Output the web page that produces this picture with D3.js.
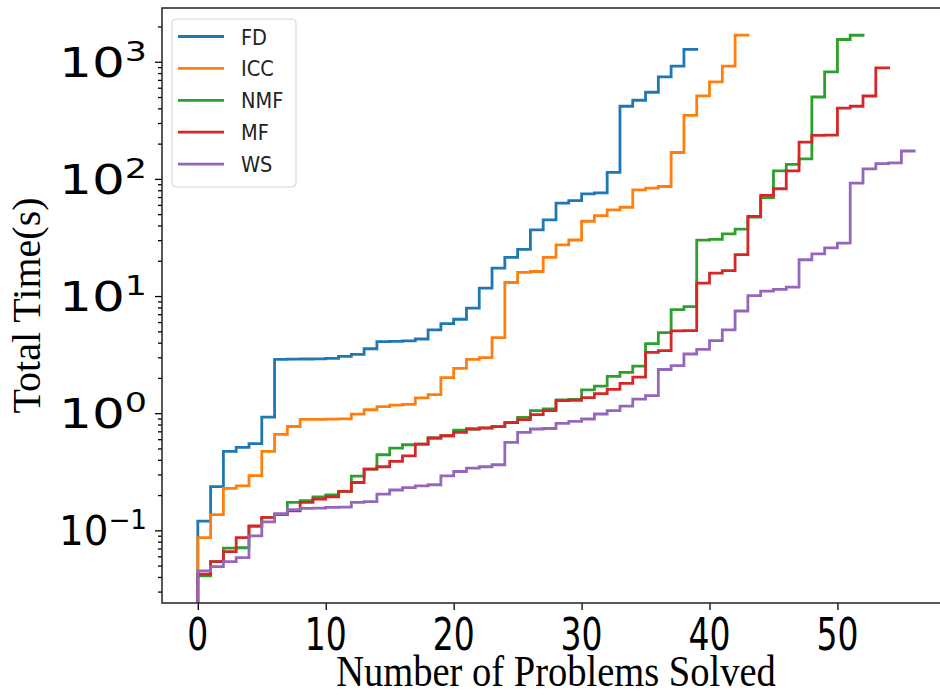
<!DOCTYPE html>
<html>
<head>
<meta charset="utf-8">
<script src="https://cdn.jsdelivr.net/npm/d3@7"></script>
<style>
  body { margin: 0; background: #fff; }
  svg { display: block; }
</style>
</head>
<body>
<script>
// cumulative solve time (s) after each solved problem
const methods = ["FD", "ICC", "NMF", "MF", "WS"];
const colors = ["#1f77b4", "#ff7f0e", "#2ca02c", "#d62728", "#9467bd"];

const fdTimes = [0.12, 0.236, 0.473, 0.511, 0.55, 0.924, 2.88, 2.89, 2.9, 2.91, 2.94, 3.06, 3.18, 3.55,
  4.08, 4.1, 4.15, 4.3, 5.14, 5.82, 6.34, 7.88, 11.7, 17.3, 21.4, 25.0, 36.7, 44.7, 62.0, 65.3, 74.5,
  76.1, 113.5, 417, 469, 549, 743, 916, 1274];
const iccTimes = [0.0868, 0.136, 0.228, 0.240, 0.293, 0.473, 0.66, 0.77, 0.885, 0.887, 0.89, 0.895,
  0.98, 1.07, 1.14, 1.17, 1.19, 1.35, 1.44, 2.01, 2.41, 2.88, 2.98, 4.41, 13.05, 15.9, 16.2, 21.4,
  27.3, 30.1, 43.5, 48.6, 54.4, 57.3, 80.7, 83.3, 86.1, 168, 349, 511, 673, 916, 1690];
const nmfTimes = [0.0408, 0.0541, 0.0705, 0.071, 0.108, 0.129, 0.137, 0.173, 0.179, 0.193, 0.201,
  0.215, 0.29, 0.333, 0.442, 0.504, 0.538, 0.545, 0.614, 0.642, 0.718, 0.733, 0.747, 0.767, 0.835,
  0.92, 1.05, 1.09, 1.30, 1.31, 1.58, 1.70, 2.06, 2.23, 2.52, 3.92, 4.88, 7.65, 8.13, 30.0, 30.4,
  34.0, 37.3, 47.2, 69.1, 117, 133, 148, 500, 818, 1549, 1684];
const mfTimes = [0.0422, 0.0541, 0.0659, 0.0868, 0.109, 0.129, 0.137, 0.147, 0.173, 0.185, 0.193,
  0.215, 0.256, 0.333, 0.349, 0.388, 0.433, 0.545, 0.614, 0.642, 0.686, 0.733, 0.75, 0.767, 0.83,
  0.88, 0.971, 1.05, 1.28, 1.29, 1.36, 1.47, 1.60, 1.80, 2.03, 3.31, 3.42, 5.05, 5.07, 12.9, 15.7,
  16.5, 22.6, 47.8, 72.3, 82.4, 117, 206, 235, 236, 402, 417, 510, 887];
const wsTimes = [0.0451, 0.0491, 0.0541, 0.0586, 0.0897, 0.118, 0.139, 0.150, 0.154, 0.155, 0.157,
  0.158, 0.173, 0.176, 0.204, 0.221, 0.232, 0.240, 0.245, 0.292, 0.318, 0.340, 0.349, 0.363, 0.563,
  0.686, 0.733, 0.74, 0.818, 0.851, 0.892, 0.984, 1.05, 1.15, 1.32, 1.41, 2.36, 2.55, 3.2, 3.5,
  4.17, 5.14, 7.45, 10.1, 11.0, 11.4, 11.9, 20.4, 22.9, 25.8, 28.3, 92.1, 122, 135, 137, 173];

const xTicks = [0, 10, 20, 30, 40, 50];
const yTicks = [0.1, 1, 10, 100, 1000];
const yTickExp = ["\u22121", "0", "1", "2", "3"];

const seriesTimes = [fdTimes, iccTimes, nmfTimes, mfTimes, wsTimes];

const width = 940, height = 695;
const plot = { left: 162, top: 8, right: 950, bottom: 603 };

const svg = d3.select("body").append("svg")
  .attr("width", width)
  .attr("height", height);

// matplotlib-like 5% margins: x over [0, 56], y over log range of the data
const xMax = d3.max(seriesTimes, (s) => s.length);
const x = d3.scaleLinear()
  .domain([-0.05 * xMax, xMax * 1.05])
  .range([plot.left, plot.right]);

const allTimes = seriesTimes.flat();
const lo = Math.log10(d3.min(allTimes)), hi = Math.log10(d3.max(allTimes));
const pad = (hi - lo) * 0.05;
const y = d3.scaleLog()
  .domain([10 ** (lo - pad), 10 ** (hi + pad)])
  .range([plot.bottom, plot.top])
  .clamp(true);

svg.append("clipPath").attr("id", "clip")
  .append("rect")
  .attr("x", plot.left).attr("y", plot.top)
  .attr("width", plot.right - plot.left).attr("height", plot.bottom - plot.top);

// step lines (matplotlib step, where="pre"), starting at zero time for zero problems
const line = d3.line()
  .x((d) => x(d[0]))
  .y((d) => y(d[1]))
  .curve(d3.curveStepBefore);

svg.append("g")
  .attr("clip-path", "url(#clip)")
  .selectAll("path")
  .data(seriesTimes)
  .join("path")
  .attr("d", (s) => line([[0, 0], ...s.map((t, i) => [i + 1, t])]))
  .attr("fill", "none")
  .attr("stroke", (s, i) => colors[i])
  .attr("stroke-width", 2.8)
  .attr("stroke-linejoin", "miter")
  .attr("stroke-linecap", "square");

// x axis
const xAxis = svg.append("g")
  .attr("transform", `translate(0,${plot.bottom})`)
  .call(d3.axisBottom(x).tickValues(xTicks).tickSize(7).tickSizeOuter(0).tickFormat(""));
xAxis.select(".domain").remove();
xAxis.selectAll(".tick line").attr("stroke", "#000").attr("stroke-width", 1.3);

svg.append("g")
  .selectAll("text")
  .data(xTicks)
  .join("text")
  .attr("transform", (d) => `translate(${x(d)},650) scale(0.75,1)`)
  .attr("text-anchor", "middle")
  .attr("font-family", "DejaVu Sans")
  .attr("font-size", 44)
  .text((d) => d);

// y axis: major + minor ticks
const yMinor = [];
for (let e = -2; e <= 3; e++) {
  for (let m = 2; m <= 9; m++) {
    const v = m * 10 ** e;
    if (v >= y.domain()[0] && v <= y.domain()[1]) yMinor.push(v);
  }
}
const yAxisMajor = svg.append("g")
  .attr("transform", `translate(${plot.left},0)`)
  .call(d3.axisLeft(y).tickValues(yTicks).tickSize(7).tickSizeOuter(0).tickFormat(""));
const yAxisMinor = svg.append("g")
  .attr("transform", `translate(${plot.left},0)`)
  .call(d3.axisLeft(y).tickValues(yMinor).tickSize(4).tickSizeOuter(0).tickFormat(""));
[yAxisMajor, yAxisMinor].forEach((g) => {
  g.select(".domain").remove();
  g.selectAll(".tick line").attr("stroke", "#000").attr("stroke-width", 1.3);
});

// y tick labels: every label fills the same width in the picture
const yLabels = svg.append("g")
  .selectAll("text")
  .data(yTicks)
  .join("text")
  .attr("x", 147)
  .attr("y", (d) => y(d) + 15)
  .attr("text-anchor", "end")
  .attr("textLength", 88)
  .attr("lengthAdjust", "spacingAndGlyphs")
  .attr("font-family", "DejaVu Sans")
  .attr("font-size", 40);
yLabels.append("tspan").text("10");
yLabels.append("tspan")
  .attr("dy", -16)
  .attr("font-size", 27)
  .text((d, i) => yTickExp[i]);

// frame
svg.append("rect")
  .attr("x", plot.left).attr("y", plot.top)
  .attr("width", plot.right - plot.left).attr("height", plot.bottom - plot.top)
  .attr("fill", "none")
  .attr("stroke", "#222")
  .attr("stroke-width", 1.5);

// axis titles
svg.append("text")
  .attr("transform", `translate(${(plot.left + plot.right) / 2},686) scale(0.856,1)`)
  .attr("text-anchor", "middle")
  .attr("font-family", "Liberation Serif")
  .attr("font-size", 45)
  .text("Number of Problems Solved");

svg.append("text")
  .attr("transform", `translate(40,${(plot.top + plot.bottom) / 2}) rotate(-90)`)
  .attr("text-anchor", "middle")
  .attr("font-family", "Liberation Serif")
  .attr("font-size", 40)
  .text("Total Time(s)");

// legend
const legend = svg.append("g").attr("transform", "translate(172,19)");
legend.append("rect")
  .attr("width", 124).attr("height", 168)
  .attr("rx", 4)
  .attr("fill", "#fff").attr("fill-opacity", 0.8)
  .attr("stroke", "#d4d4d4");
const items = legend.selectAll("g.item")
  .data(methods)
  .join("g")
  .attr("class", "item")
  .attr("transform", (d, i) => `translate(0,${17.5 + i * 31.9})`);
items.append("line")
  .attr("x1", 6).attr("x2", 52)
  .attr("stroke", (d, i) => colors[i])
  .attr("stroke-width", 2.8);
items.append("text")
  .attr("transform", "translate(69,8) scale(0.9,1)")
  .attr("font-family", "DejaVu Sans")
  .attr("font-size", 21.5)
  .attr("fill", "#222")
  .text((d) => d);
</script>
</body>
</html>
